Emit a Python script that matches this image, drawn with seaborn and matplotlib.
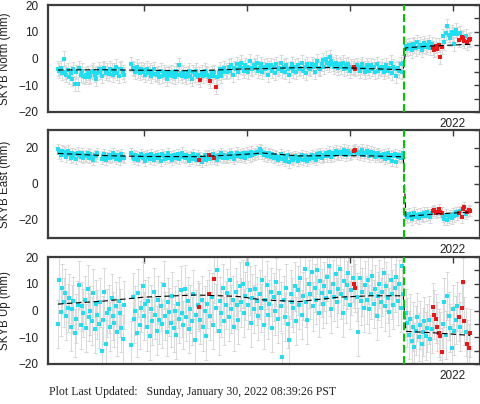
import numpy as np
import pandas as pd
import matplotlib
matplotlib.use('Agg')
import matplotlib.pyplot as plt
import seaborn as sns
from matplotlib.ticker import MultipleLocator

sns.set_style('white')
plt.rcParams['font.family'] = ['Liberation Sans', 'DejaVu Sans']

nan = np.nan

# ---- epochs (decimal year) ----
PRE_START, PRE_END = 2018.16, 2021.52
POST_START, POST_END = 2021.545, 2022.17
QUAKE = 2021.53

# ---- North (mm) ----
north_pre = [
    -3.8, -4.5, -3.5, -5.5, 0.0, -5.0, -6.0, -4.2, -6.8, -5.5,
    -7.5, -4.0, -9.5, -5.0, -9.5, -3.5, -6.0, -4.5, -6.5, -7.0,
    -6.0, -5.5, -7.0, -6.5, -5.0, -4.5, -6.0, -7.5, -5.5, -4.0,
    -5.0, -6.5, -4.0, -3.5, -5.5, -4.5, -5.8, -3.8, -4.2, -6.0,
    -4.5, -3.0, -5.5, -6.5, -4.0, -3.8, -5.0, -6.0, nan, nan,
    nan, nan, -2.0, -3.5, -4.0, -5.0, -3.0, -4.5, -5.5, -4.0,
    -5.0, -4.2, -6.0, -3.8, -5.5, -4.5, -6.5, -5.0, -4.0, -5.8,
    -6.0, -5.5, -7.0, -4.5, -6.5, -5.0, -6.0, -7.5, -5.5, -6.0,
    -5.0, -6.5, -5.5, -7.0, -4.5, -6.0, -2.5, -5.5, -6.5, -5.0,
    -6.0, -7.0, -5.5, -4.5, -6.5, -7.5, -5.0, -6.0, -4.5, -7.0,
    -6.0, -8.0, -5.0, -6.5, -4.5, -5.5, -6.0, -7.0, -8.5, -5.5,
    -6.5, -5.0, -10.5, -7.0, -5.5, -4.0, -6.5, -5.0, -3.5, -4.5,
    -5.0, -3.0, -4.5, -2.5, -6.0, -3.5, -4.0, -2.0, -5.0, -3.0,
    -1.5, -3.5, -4.5, -2.5, -3.0, -5.0, -1.0, -3.5, -4.0, -2.5,
    -3.0, -1.5, -4.5, -3.5, -2.0, -5.0, -3.0, -4.0, -2.5, -6.0,
    -3.5, -2.5, -4.5, -3.0, -5.5, -2.0, -4.0, -3.5, -1.5, -4.5,
    -3.0, -5.0, -2.5, -4.0, -6.0, -3.5, -2.0, -4.5, -3.0, -5.0,
    -2.5, -4.0, -3.5, -1.5, -4.5, -3.0, -5.5, -2.0, -3.5, -4.0,
    -2.0, -3.0, -5.0, -2.5, -1.0, -3.5, -4.0, -2.0, -0.5, -3.0,
    0.0, -1.5, -2.5, 0.5, -1.0, -2.0, -3.0, -1.5, -2.5, -3.5,
    -2.0, -3.0, -1.5, -4.0, -2.5, -3.5, -2.0, -4.5, -3.0, -3.5,
    -3.0, -4.0, -2.5, -3.5, -4.5, -3.0, -2.0, -3.5, -5.0, -2.5,
    -3.5, -4.5, -2.5, -4.0, -3.0, -5.0, -2.0, -4.5, -3.5, -4.0,
    -3.0, -5.0, -4.0, -2.5, -4.5, -3.5, -1.5, -5.5, -3.0, -4.0,
    -6.5, -3.5, -4.5, -2.0, -5.0, -1.5,
]
north_post = [
    4.5, 3.5, 5.0, 4.0, 3.0, 5.5, 4.8, 3.8, 6.0, 4.2,
    5.2, 3.2, 4.6, 5.8, 4.4, 5.0, 6.2, 4.0, 5.4,
    4.0, 3.2, 4.8, 3.6, 5.0, 0.5, 4.2,
    8.5, 6.0, 9.5, 12.0, 8.8, 7.5, 10.0, 9.2, 5.5, 10.5, 9.0,
    7.0, 9.5, 8.0, 7.5, 6.5, 8.5, 6.0, 7.0, 7.2,
]
north_pre_flag = [101, 108, 112, 210, 211]

# ---- East (mm) ----
east_pre = [
    19.5, 17.0, 16.0, 18.5, 18.0, 17.5, 15.0, 18.5, 16.5, 14.5,
    17.0, 15.5, 16.5, 14.0, 17.5, 16.0, 15.0, 17.0, 14.5, 16.0,
    15.5, 17.0, 14.5, 16.5, 15.0, 13.5, 16.0, 15.5, 17.0, nan,
    nan, 14.0, 15.5, 16.5, 13.5, 15.0, 16.0, 14.5, 15.5, 17.0,
    15.0, 14.0, 16.0, 15.5, 13.5, 16.5, 15.0, 14.5, nan, nan,
    nan, nan, 17.0, 15.0, 14.0, 16.0, 15.5, 13.5, 15.0, 16.5,
    14.5, 15.5, 13.0, 16.0, 15.0, 14.0, 16.5, 15.0, 13.5, 15.5,
    16.0, 14.5, 15.0, 13.0, 16.5, 15.5, 14.0, 15.0, 17.0, 14.5,
    15.5, 13.5, 16.0, 15.0, 14.5, 16.5, 14.0, 15.5, 17.5, 15.0,
    14.5, 16.0, 15.0, 13.0, 15.5, 14.0, 16.5, 15.0, 13.5, 16.0,
    13.3, 15.0, 12.5, 14.5, 16.0, 13.5, 15.5, 16.1, 14.0, 15.0,
    16.5, 14.3, 15.5, 13.5, 16.0, 15.0, 17.0, 14.5, 16.0, 15.5,
    14.5, 16.5, 15.0, 17.0, 15.5, 14.0, 16.0, 17.5, 15.5, 16.5,
    15.0, 17.0, 16.0, 14.5, 17.5, 16.5, 15.5, 18.0, 16.0, 17.0,
    16.5, 18.0, 17.0, 19.5, 18.5, 17.0, 16.0, 17.5, 15.5, 16.5,
    17.0, 15.0, 16.5, 14.5, 16.0, 15.5, 13.5, 15.0, 16.5, 14.0,
    15.5, 13.0, 14.5, 16.0, 12.0, 15.0, 14.0, 13.5, 15.5, 14.5,
    13.0, 15.0, 14.0, 16.0, 13.5, 14.5, 15.5, 13.0, 14.0, 15.0,
    16.0, 14.5, 15.5, 13.5, 16.5, 15.0, 17.0, 14.5, 16.0, 15.5,
    17.0, 15.5, 18.0, 16.5, 15.0, 17.5, 16.0, 18.5, 17.0, 16.5,
    18.0, 16.5, 17.5, 19.0, 16.0, 17.5, 18.5, 16.5, 17.0, 18.0,
    18.5, 19.0, 17.0, 18.0, 16.5, 17.5, 19.0, 16.0, 17.5, 18.5,
    17.0, 15.5, 18.0, 16.5, 17.5, 15.0, 16.5, 17.0, 15.5, 16.0,
    15.0, 16.5, 14.0, 15.5, 17.0, 14.5, 16.0, 13.0, 15.5, 16.5,
    12.5, 15.0, 16.0, 14.5, 15.5, 17.0,
]
east_post = [
    -17.0, -18.5, -16.5, -18.0, -19.5, -17.5, -16.0, -18.5, -17.0, -19.0,
    -16.5, -17.5, -18.0, -16.0, -17.5, -15.5, -17.0, -18.5, -16.0,
    -15.0, -14.5, -16.0, -15.5, -14.0, -15.5, -16.0,
    -18.0, -19.5, -17.0, -20.0, -18.5, -17.5, -19.0, -16.5, -18.0, -15.5, -17.0,
    -16.0, -15.0, -18.5, -14.0, -13.0, -16.5, -15.5, -14.5, -15.0,
]
east_pre_flag = [100, 107, 111, 210, 211]

# ---- Up (mm) ----
up_pre = [
    -5.0, 11.5, -0.5, 8.5, 3.0, 6.5, -2.0, 1.0, 4.5, -6.0,
    0.5, 3.5, -8.5, -3.0, 2.0, 9.5, -5.5, 1.5, -1.0, 4.0,
    -6.5, 8.0, -2.5, 0.0, -4.0, 6.5, -7.0, 2.5, -1.5, -5.0,
    3.0, -15.0, -3.5, 7.0, -12.5, -1.0, 0.5, -6.0, 4.5, -2.0,
    -4.5, 1.5, -8.0, 3.5, -1.0, -6.5, -10.5, 2.0, nan, nan,
    nan, nan, -13.0, 5.0, -3.0, 0.0, -8.5, 6.5, -5.5, 1.0,
    9.0, -2.0, 2.5, -6.0, 3.5, -9.5, 0.5, -4.0, 7.0, -1.5,
    -7.5, 4.0, -3.5, 1.5, -5.0, 9.5, -2.0, -8.0, 3.0, -0.5,
    -4.5, 5.5, -6.5, 0.0, -9.0, 2.5, -3.0, 7.5, -1.0, -5.5,
    8.0, -2.5, 3.5, -7.0, 0.5, -4.0, 6.0, -11.0, -1.5, 2.0,
    1.4, -3.5, 4.0, -6.0, 0.0, -9.5, 2.5, 6.2, -2.0, 5.0,
    -5.5, 11.7, 1.0, 15.0, -7.5, 3.5, -1.0, 8.5, -4.0, 2.0,
    6.5, -2.5, 11.5, 0.5, 4.0, -6.0, 7.0, 2.0, -3.5, 9.0,
    3.0, 10.0, -1.0, 5.5, 17.5, 2.0, 7.5, -4.5, 4.5, 0.5,
    8.0, 3.5, -2.0, 6.0, 1.0, 11.5, -5.5, 4.0, 9.5, -1.5,
    2.5, 7.0, -6.5, 5.0, 0.0, 10.5, -3.0, 6.5, 1.5, -17.5,
    4.0, -2.5, 8.5, -5.0, -11.0, 6.0, 3.0, 1.0, 9.0, -4.0,
    7.5, 2.0, 12.0, -1.5, 5.5, 15.5, 3.0, -3.5, 10.0, 6.0,
    14.5, 1.5, 8.5, 4.0, 15.0, -1.0, 11.0, 6.5, 2.5, 9.0,
    4.5, 12.5, 16.5, 7.0, 0.5, 10.0, 5.0, 13.5, 3.0, 8.0,
    15.5, 6.0, -1.0, 11.0, 4.5, 9.5, 14.0, 2.0, 7.5, 12.0,
    10.0, 8.3, 5.0, -8.0, 12.0, 3.5, 7.0, 1.0, 9.5, 4.0,
    11.5, 0.5, 6.0, 13.0, 2.5, 8.0, -2.0, 5.5, 10.0, 3.0,
    7.0, 14.0, 1.5, 9.0, 4.5, -0.5, 11.5, 6.0, 2.0, 8.5,
    12.5, 3.5, 10.0, 1.0, 16.5, 6.0,
]
up_post = [
    -1.0, -4.5, -9.0, -3.0, -11.5, -6.0, -13.5, -7.5, -2.5, -10.0,
    -5.5, -12.5, -8.0, -4.0, -9.5, -6.5, -3.5, -10.5, -7.0,
    1.2, -1.5, -3.0, -6.0, -8.5, -9.5, -15.5,
    -5.0, 3.0, -9.0, 5.5, -2.0, -6.5, -14.0, 0.5, -7.5, -3.5, 1.5,
    -2.5, -6.0, 0.8, 10.5, -4.0, -8.0, -12.5, -14.0, -8.5,
]
up_pre_flag = [100, 107, 111, 210, 211]
post_flag = [19, 20, 21, 22, 23, 24, 25, 37, 39, 40, 41, 43, 44, 45]

# ---- formal errors (mm) ----
sig_north, sig_east, sig_up = 2.7, 3.0, 9.0

# ---- model (fit) knots ----
model_t = [2018.16, 2018.6, 2019.0, 2019.5, 2019.9, 2020.15, 2020.5, 2020.9, 2021.2, 2021.52,
           2021.545, 2021.8, 2022.17]
north_model = [-4.3, -4.2, -4.4, -4.6, -4.0, -3.8, -3.4, -3.4, -3.8, -4.2, 4.0, 4.7, 5.3]
east_model = [17.0, 15.8, 15.3, 15.2, 16.2, 17.2, 15.6, 15.8, 15.6, 15.1, -18.0, -16.8, -15.6]
up_model = [2.4, 3.5, 5.0, 5.8, 5.3, 4.0, 3.3, 5.0, 5.5, 5.5, -7.8, -8.3, -9.3]

# ---- labels ----
ylabels = ['SKYB North (mm)', 'SKYB East (mm)', 'SKYB Up (mm)']
year_ticks = [2019, 2020, 2021, 2022]
year_labels = ['', '', '', '2022']
footer = 'Plot Last Updated:   Sunday, January 30, 2022 08:39:26 PST'

CYAN = '#1fe0f2'
RED = '#f01414'
GRAY = '#d4d4d4'
FRAME = '#3c3c3c'
MSIZE = 4.7


def make_df(pre, post, pre_flag):
    t = np.concatenate([np.linspace(PRE_START, PRE_END, len(pre)),
                        np.linspace(POST_START, POST_END, len(post))])
    v = np.array(pre + post, dtype=float)
    flag = np.zeros(len(v), dtype=bool)
    flag[pre_flag] = True
    flag[[len(pre) + i for i in post_flag]] = True
    return pd.DataFrame({'t': t, 'v': v, 'flag': flag}).dropna()


panels = [
    (north_pre, north_post, north_pre_flag, sig_north, north_model, (-20, 20), 5, [-20, -10, 0, 10, 20]),
    (east_pre, east_post, east_pre_flag, sig_east, east_model, (-30, 30), 10, [-20, 0, 20]),
    (up_pre, up_post, up_pre_flag, sig_up, up_model, (-20, 20), 5, [-20, -10, 0, 10, 20]),
]

W, H = 481, 404
rects = [(48, 5, 480, 112), (48, 130, 480, 238), (48, 257, 480, 364)]

fig = plt.figure(figsize=(W / 100, H / 100), dpi=100)

for k, (pre, post, pflag, sig, model, ylim, minor, yt) in enumerate(panels):
    x0, y0, x1, y1 = rects[k]
    ax = fig.add_axes([x0 / W, 1 - y1 / H, (x1 - x0) / W, (y1 - y0) / H])
    df = make_df(pre, post, pflag)

    ax.errorbar(df['t'], df['v'], yerr=sig, fmt='none', ecolor=GRAY,
                elinewidth=0.6, capsize=1.6, capthick=0.6, zorder=1)
    sns.scatterplot(data=df[~df['flag']], x='t', y='v', color=CYAN, marker='s',
                    s=MSIZE, linewidth=0, ax=ax, zorder=3, legend=False)
    sns.scatterplot(data=df[df['flag']], x='t', y='v', color=RED, marker='s',
                    s=MSIZE, linewidth=0, ax=ax, zorder=4, legend=False)
    sns.lineplot(x=model_t, y=model, color='black', lw=0.8, ax=ax, zorder=5,
                 estimator=None, sort=False, linestyle=(0, (5, 3)))
    ax.axvline(QUAKE, color='#00c800', lw=1.5, linestyle=(0, (3.8, 1.6)), zorder=6)

    ax.set_xlim(2018.063, 2022.266)
    ax.set_ylim(*ylim)
    ax.set_xticks(year_ticks)
    ax.set_xticklabels(year_labels)
    ax.set_yticks(yt)
    ax.yaxis.set_minor_locator(MultipleLocator(minor))
    ax.set_xlabel('')
    ax.set_ylabel(ylabels[k], fontsize=8.3, color='#222222')
    ax.yaxis.set_label_coords((11 - 48) / 432, 0.5)
    ax.tick_params(axis='both', which='both', direction='in', top=True, right=True,
                   color=FRAME, width=1.0, labelsize=8.5, labelcolor='#222222')
    ax.tick_params(axis='both', which='major', length=4)
    ax.tick_params(axis='both', which='minor', length=4)
    ax.tick_params(axis='y', pad=7)
    ax.tick_params(axis='x', pad=4)
    for sp in ax.spines.values():
        sp.set_color(FRAME)
        sp.set_linewidth(1.6)

fig.text(49 / W, 1 - 392 / H, footer, family=['Liberation Serif', 'DejaVu Serif'],
         fontsize=8.5, va='center', ha='left', color='#222222')

fig.savefig('out.png', dpi=100)
